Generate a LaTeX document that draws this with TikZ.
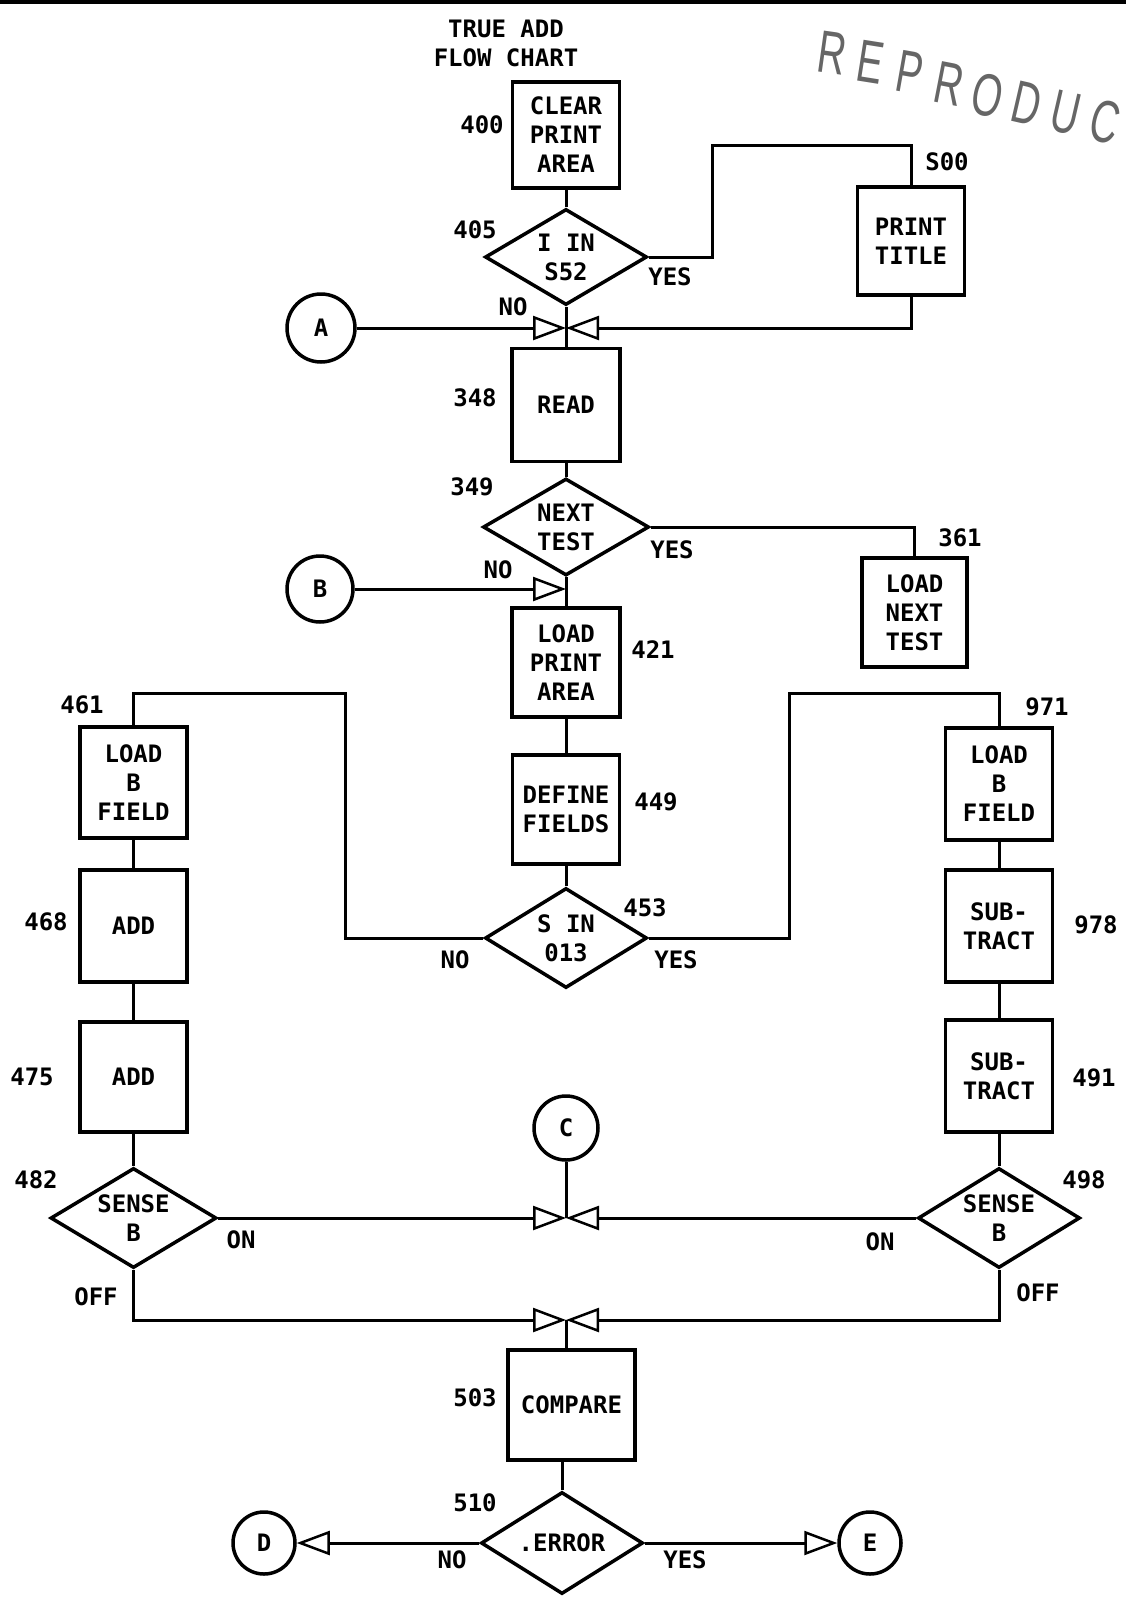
\documentclass[tikz,border=0pt]{standalone}
\usepackage{fontspec}
\newfontfamily\chartfont{DejaVu Sans Mono}
\newfontfamily\stampfont{Liberation Sans}
\usetikzlibrary{shapes.geometric,arrows.meta}
\tikzset{
  every node/.style={font=\chartfont\bfseries\fontsize{24}{29}\selectfont, text=black},
  box/.style={draw, line width=3.5pt, minimum width=107pt, minimum height=110pt, inner sep=0pt, align=center},
  dia/.style={draw, diamond, line width=3.5pt, minimum width=162pt, minimum height=98pt, aspect=1.65, inner sep=0pt, align=center},
  conn/.style={draw, circle, line width=3.5pt, minimum size=66pt, inner sep=0pt},
  num/.style={inner sep=0pt},
  lbl/.style={inner sep=0pt, align=center},
  flow/.style={line width=3pt},
  tip/.style={-{Triangle[open, length=33pt, width=24pt, line width=2.5pt]}},
  stamp/.style={inner sep=0pt, font=\stampfont\fontsize{60}{60}\selectfont, text=black!60},
}
\newcommand{\stampletter}[1]{\scalebox{0.65}[1]{#1}}
\begin{document}
\begin{tikzpicture}[x=1pt, y=-1pt]
\fill[white] (0,0) rectangle (1126,1606);
\useasboundingbox (0,0) rectangle (1126,1606);
\draw[line width=4pt] (0,2) -- (1126,2);

% watermark (letters along an arc)
\node[stamp, rotate=-8]  (w1) at (832,53)  {\stampletter{R}};
\node[stamp, rotate=-9]  (w2) at (871,62)  {\stampletter{E}};
\node[stamp, rotate=-10] (w3) at (910,72)  {\stampletter{P}};
\node[stamp, rotate=-11] (w4) at (949,84)  {\stampletter{R}};
\node[stamp, rotate=-12] (w5) at (988,95)  {\stampletter{O}};
\node[stamp, rotate=-13] (w6) at (1027,104) {\stampletter{D}};
\node[stamp, rotate=-13] (w7) at (1066,113) {\stampletter{U}};
\node[stamp, rotate=-14] (w8) at (1105,122) {\stampletter{C}};

% title
\node[lbl] (title) at (506,43) {TRUE ADD\\FLOW CHART};

% main column
\node[box, minimum height=106pt] (b400) at (566,135) {CLEAR\\PRINT\\AREA};
\node[num] (n400) at (482,125) {400};
\node[dia, minimum height=96pt] (d405) at (566,257) {I IN\\S52};
\node[num] (n405) at (475,230) {405};
\node[lbl] (y405) at (670,277) {YES};
\node[lbl] (no405) at (513,307) {NO};

\node[box, minimum height=108pt] (b500) at (911,241) {PRINT\\TITLE};
\node[num] (n500) at (947,162) {S00};

\coordinate (J1) at (566,328);
\node[conn, minimum size=68pt] (cA) at (321,328) {A};

\node[box, minimum width=108pt, minimum height=113pt] (b348) at (566,405) {READ};
\node[num] (n348) at (475,398) {348};

\node[dia, minimum width=166pt, minimum height=97pt] (d349) at (566,527) {NEXT\\TEST};
\node[num] (n349) at (472,487) {349};
\node[lbl] (y349) at (672,550) {YES};
\node[lbl] (no349) at (498,570) {NO};

\node[box, minimum width=105pt, minimum height=109pt] (b361) at (914.5,612.5) {LOAD\\NEXT\\TEST};
\node[num] (n361) at (960,538) {361};

\node[conn] (cB) at (320,589) {B};
\coordinate (J2) at (566,589);

\node[box, minimum width=108pt, minimum height=109pt] (b421) at (566,662.5) {LOAD\\PRINT\\AREA};
\node[num] (n421) at (653,650) {421};

\node[box, minimum height=109pt] (b449) at (566,809.5) {DEFINE\\FIELDS};
\node[num] (n449) at (656,802) {449};

\node[dia, minimum height=100pt] (d453) at (566,938) {S IN\\013};
\node[num] (n453) at (645,908) {453};
\node[lbl] (no453) at (455,960) {NO};
\node[lbl] (y453) at (676,960) {YES};

% left column
\node[box, minimum height=111pt] (b461) at (133.5,782.5) {LOAD\\B\\FIELD};
\node[num] (n461) at (82,705) {461};
\node[box, minimum height=112pt] (b468) at (133.5,926) {ADD};
\node[num] (n468) at (46,922) {468};
\node[box] (b475) at (133.5,1077) {ADD};
\node[num] (n475) at (32,1077) {475};
\node[dia, minimum width=166pt, minimum height=100pt] (d482) at (133.5,1218) {SENSE\\B};
\node[num] (n482) at (36,1180) {482};
\node[lbl] (on482) at (241,1240) {ON};
\node[lbl] (off482) at (96,1297) {OFF};

% right column
\node[box, minimum height=112pt] (b971) at (999,784) {LOAD\\B\\FIELD};
\node[num] (n971) at (1047,707) {971};
\node[box, minimum height=112pt] (b978) at (999,926) {SUB-\\TRACT};
\node[num] (n978) at (1096,925) {978};
\node[box, minimum height=112pt] (b491) at (999,1076) {SUB-\\TRACT};
\node[num] (n491) at (1094,1078) {491};
\node[dia, minimum height=100pt] (d498) at (999,1218) {SENSE\\B};
\node[num] (n498) at (1084,1180) {498};
\node[lbl] (on498) at (880,1242) {ON};
\node[lbl] (off498) at (1038,1293) {OFF};

% bottom
\node[conn, minimum size=64pt] (cC) at (566,1128) {C};
\coordinate (J3) at (566,1218);
\coordinate (J4) at (566,1320);

\node[box, minimum width=127pt, minimum height=110pt] (b503) at (571.5,1405) {COMPARE};
\node[num] (n503) at (475,1398) {503};
\node[dia, minimum height=102pt] (d510) at (562,1543) {.ERROR};
\node[num] (n510) at (475,1503) {510};
\node[lbl] (no510) at (452,1560) {NO};
\node[lbl] (y510) at (685,1560) {YES};
\node[conn, minimum size=62pt] (cD) at (264,1543) {D};
\node[conn, minimum size=62pt] (cE) at (870,1543) {E};

% helper corners
\coordinate (t1) at (712,145);
\coordinate (t2) at (345,693);
\coordinate (t3) at (789,693);

% connectors
\draw[flow] (b400) -- (d405);
\draw[flow] (d405.east) -| (t1) -| (b500.north);
\draw[flow, tip] (b500.south) |- (J1);
\draw[flow, tip] (cA) -- (J1);
\draw[flow] (d405.south) -- (b348.north);
\draw[flow] (b348) -- (d349);
\draw[flow] (d349.east) -| (b361.north);
\draw[flow] (d349.south) -- (b421.north);
\draw[flow, tip] (cB) -- (J2);
\draw[flow] (b421) -- (b449);
\draw[flow] (b449) -- (d453);
\draw[flow] (d453.west) -| (t2) -| (b461.north);
\draw[flow] (d453.east) -| (t3) -| (b971.north);
\draw[flow] (b461) -- (b468);
\draw[flow] (b468) -- (b475);
\draw[flow] (b475) -- (d482);
\draw[flow] (b971) -- (b978);
\draw[flow] (b978) -- (b491);
\draw[flow] (b491) -- (d498);
\draw[flow, tip] (d482.east) -- (J3);
\draw[flow, tip] (d498.west) -- (J3);
\draw[flow] (cC) -- (J3);
\draw[flow, tip] (d482.south) |- (J4);
\draw[flow, tip] (d498.south) |- (J4);
\draw[flow] (J4) -- (J4 |- b503.north);
\draw[flow] (b503.south -| d510.north) -- (d510.north);
\draw[flow, tip] (d510.west) -- (cD);
\draw[flow, tip] (d510.east) -- (cE);
\end{tikzpicture}
\end{document}
